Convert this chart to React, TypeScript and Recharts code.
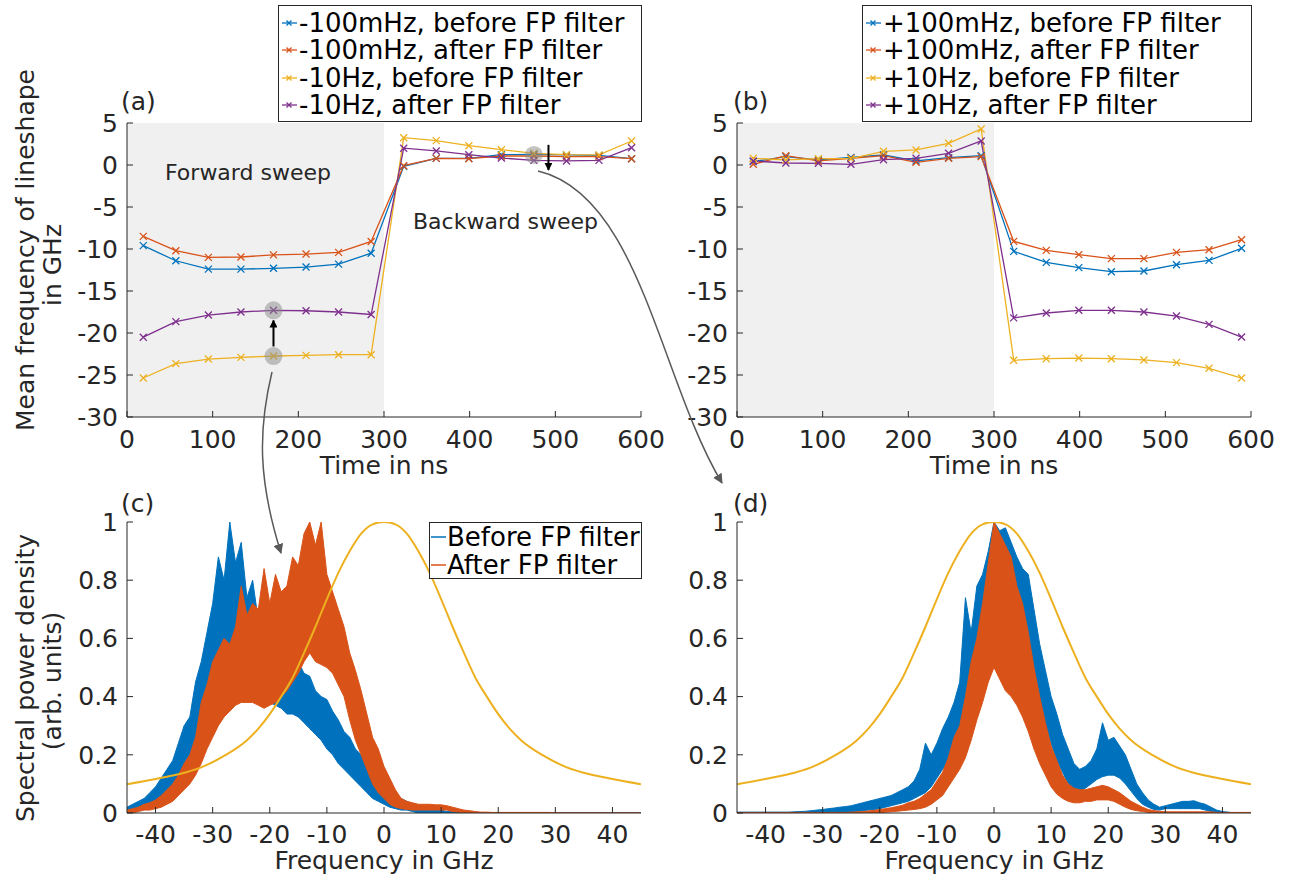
import React from 'react';
import {
  Area,
  ComposedChart,
  Line,
  LineChart,
  ReferenceArea,
  ReferenceDot,
  ReferenceLine,
  XAxis,
  YAxis,
} from 'recharts';

const FONT = 'DejaVu Sans';
const AX = '#262626';
const BLUE = '#0072BD';
const ORANGE = '#D95319';
const YELLOW = '#EDB120';
const PURPLE = '#7E2F8E';

// ---- sweep panels (a) and (b) ----
const times = [19, 57, 95, 133, 171, 209, 247, 285, 323, 361, 399, 437, 475, 513, 551, 589];
const timeTicks = [0, 100, 200, 300, 400, 500, 600];
const shiftTicks = [-30, -25, -20, -15, -10, -5, 0, 5];

const minusBlue = [-9.6, -11.4, -12.4, -12.4, -12.3, -12.15, -11.8, -10.5, -0.16, 0.79, 0.79, 1.23, 1.27, 1.2, 1.15, 0.75];
const minusOrange = [-8.5, -10.2, -11.0, -10.95, -10.7, -10.6, -10.4, -9.1, -0.08, 0.79, 0.75, 1.07, 1.07, 1.0, 1.0, 0.75];
const minusYellow = [-25.36, -23.65, -23.1, -22.9, -22.74, -22.66, -22.58, -22.58, 3.25, 2.9, 2.3, 1.82, 1.39, 1.23, 1.2, 2.86];
const minusPurple = [-20.5, -18.65, -17.86, -17.5, -17.3, -17.35, -17.5, -17.8, 2.0, 1.67, 1.23, 0.83, 0.55, 0.48, 0.55, 2.06];

const plusBlue = [0.4, 1.0, 0.6, 0.91, 1.19, 0.48, 0.87, 1.11, -10.28, -11.59, -12.22, -12.7, -12.62, -11.87, -11.35, -9.92];
const plusOrange = [0.08, 1.11, 0.48, 0.8, 1.11, 0.32, 0.8, 1.0, -9.09, -10.16, -10.67, -11.15, -11.15, -10.4, -10.08, -8.89];
const plusYellow = [0.8, 0.6, 0.75, 0.75, 1.63, 1.79, 2.58, 4.29, -23.25, -23.06, -22.98, -23.06, -23.21, -23.53, -24.2, -25.36];
const plusPurple = [0.48, 0.24, 0.2, 0.08, 0.63, 0.8, 1.39, 2.86, -18.2, -17.62, -17.3, -17.3, -17.5, -17.98, -18.97, -20.48];

const minusLabels = ['-100mHz, before FP filter', '-100mHz, after FP filter', '-10Hz, before FP filter', '-10Hz, after FP filter'];
const plusLabels = ['+100mHz, before FP filter', '+100mHz, after FP filter', '+10Hz, before FP filter', '+10Hz, after FP filter'];

// ---- spectra panels (c) and (d), 1 GHz grid ----
const freqs = [
  -45, -44, -43, -42, -41, -40, -39, -38, -37, -36,
  -35, -34, -33, -32, -31, -30, -29, -28, -27, -26,
  -25, -24, -23, -22, -21, -20, -19, -18, -17, -16,
  -15, -14, -13, -12, -11, -10, -9, -8, -7, -6,
  -5, -4, -3, -2, -1, 0, 1, 2, 3, 4,
  5, 6, 7, 8, 9, 10, 11, 12, 13, 14,
  15, 16, 17, 18, 19, 20, 21, 22, 23, 24,
  25, 26, 27, 28, 29, 30, 31, 32, 33, 34,
  35, 36, 37, 38, 39, 40, 41, 42, 43, 44, 45,
];
const freqTicks = [-40, -30, -20, -10, 0, 10, 20, 30, 40];
const psdTicks = [0, 0.2, 0.4, 0.6, 0.8, 1];

const cBlueHi = [
  0.02, 0.03, 0.04, 0.05, 0.07, 0.09, 0.12, 0.15, 0.18, 0.24,
  0.3, 0.33, 0.45, 0.52, 0.62, 0.72, 0.88, 0.8, 1.0, 0.86,
  0.93, 0.74, 0.8, 0.66, 0.62, 0.58, 0.55, 0.52, 0.5, 0.55,
  0.52, 0.48, 0.47, 0.42, 0.4, 0.39, 0.35, 0.32, 0.28, 0.26,
  0.22, 0.2, 0.16, 0.14, 0.11, 0.08, 0.07, 0.05, 0.05, 0.04,
  0.03, 0.02, 0.02, 0.015, 0.01, 0.01, 0.005, 0.005, 0.004, 0.003,
  0.002, 0.002, 0.001, 0, 0, 0, 0, 0, 0, 0,
  0, 0, 0, 0, 0, 0, 0, 0, 0, 0,
  0, 0, 0, 0, 0, 0, 0, 0, 0, 0, 0,
];
const cBlueLo = [
  0, 0.005, 0.01, 0.015, 0.02, 0.03, 0.05, 0.07, 0.09, 0.11,
  0.14, 0.18, 0.23, 0.28, 0.35, 0.42, 0.47, 0.52, 0.55, 0.52,
  0.5, 0.48, 0.45, 0.42, 0.4, 0.38, 0.37, 0.36, 0.34, 0.34,
  0.33, 0.31, 0.29, 0.27, 0.25, 0.22, 0.2, 0.17, 0.15, 0.13,
  0.11, 0.09, 0.07, 0.05, 0.04, 0.03, 0.02, 0.015, 0.01, 0.01,
  0.005, 0, 0, 0, 0, 0, 0, 0, 0, 0,
  0, 0, 0, 0, 0, 0, 0, 0, 0, 0,
  0, 0, 0, 0, 0, 0, 0, 0, 0, 0,
  0, 0, 0, 0, 0, 0, 0, 0, 0, 0, 0,
];
const cOrangeHi = [
  0.01, 0.015, 0.02, 0.03, 0.035, 0.045, 0.06, 0.08, 0.1, 0.13,
  0.17, 0.2, 0.26, 0.38, 0.44, 0.52, 0.56, 0.6, 0.58, 0.64,
  0.78, 0.68, 0.72, 0.7, 0.84, 0.72, 0.82, 0.76, 0.78, 0.88,
  0.85, 0.96, 1.0, 0.92, 1.0, 0.82, 0.76, 0.7, 0.64, 0.55,
  0.49, 0.42, 0.34, 0.26, 0.22, 0.16, 0.12, 0.08, 0.05, 0.04,
  0.035, 0.03, 0.03, 0.03, 0.028, 0.028, 0.025, 0.02, 0.015, 0.01,
  0.008, 0.005, 0.003, 0.003, 0.002, 0.002, 0.002, 0.002, 0.002, 0.002,
  0.002, 0.002, 0.002, 0.002, 0.002, 0.001, 0, 0, 0, 0,
  0, 0, 0, 0, 0, 0, 0, 0, 0, 0, 0,
];
const cOrangeLo = [
  0, 0, 0.005, 0.01, 0.01, 0.015, 0.02, 0.03, 0.04, 0.06,
  0.08, 0.1, 0.13, 0.17, 0.22, 0.26, 0.3, 0.33, 0.35, 0.37,
  0.38, 0.38, 0.38, 0.37, 0.36, 0.37, 0.38, 0.4, 0.42, 0.45,
  0.48, 0.52, 0.55, 0.52, 0.51, 0.5, 0.48, 0.44, 0.4, 0.32,
  0.25, 0.2, 0.15, 0.1, 0.07, 0.05, 0.03, 0.02, 0.015, 0.012,
  0.01, 0.01, 0.01, 0.01, 0.01, 0.01, 0.01, 0.005, 0.003, 0.002,
  0, 0, 0, 0, 0, 0, 0, 0, 0, 0,
  0, 0, 0, 0, 0, 0, 0, 0, 0, 0,
  0, 0, 0, 0, 0, 0, 0, 0, 0, 0, 0,
];

const dBlueHi = [
  0.003, 0.003, 0.003, 0.003, 0.003, 0.003, 0.003, 0.003, 0.003, 0.003,
  0.004, 0.005, 0.006, 0.008, 0.01, 0.012, 0.015, 0.017, 0.02, 0.022,
  0.025, 0.03, 0.035, 0.04, 0.045, 0.05, 0.055, 0.06, 0.07, 0.08,
  0.09, 0.11, 0.15, 0.24, 0.2, 0.24, 0.29, 0.33, 0.38, 0.45,
  0.74, 0.62, 0.78, 0.82, 0.9, 1.0, 0.97, 0.98, 0.93, 0.88,
  0.84, 0.82, 0.7, 0.58, 0.49, 0.4, 0.34, 0.27, 0.22, 0.17,
  0.15, 0.16, 0.18, 0.22, 0.31, 0.25, 0.26, 0.23, 0.2, 0.15,
  0.1, 0.07, 0.045, 0.03, 0.02, 0.025, 0.03, 0.035, 0.04, 0.04,
  0.042, 0.035, 0.03, 0.02, 0.01, 0.005, 0.003, 0, 0, 0, 0,
];
const dBlueLo = [
  0, 0, 0, 0, 0, 0, 0, 0, 0, 0,
  0, 0, 0, 0, 0, 0, 0, 0, 0, 0.002,
  0.003, 0.005, 0.008, 0.01, 0.012, 0.015, 0.02, 0.025, 0.03, 0.035,
  0.04, 0.05, 0.06, 0.07, 0.09, 0.12, 0.15, 0.18, 0.21, 0.27,
  0.33, 0.42, 0.5, 0.55, 0.57, 0.56, 0.52, 0.5, 0.52, 0.55,
  0.55, 0.5, 0.44, 0.36, 0.3, 0.24, 0.18, 0.14, 0.1, 0.08,
  0.075, 0.085, 0.1, 0.115, 0.125, 0.13, 0.13, 0.12, 0.1, 0.075,
  0.05, 0.03, 0.02, 0.012, 0.01, 0.015, 0.015, 0.015, 0.015, 0.015,
  0.015, 0.015, 0.01, 0.005, 0, 0, 0, 0, 0, 0, 0,
];
const dOrangeHi = [
  0.002, 0.002, 0.002, 0.002, 0.002, 0.002, 0.002, 0.002, 0.002, 0.002,
  0.002, 0.002, 0.002, 0.002, 0.002, 0.002, 0.002, 0.002, 0.002, 0.002,
  0.003, 0.004, 0.005, 0.007, 0.009, 0.012, 0.015, 0.018, 0.022, 0.027,
  0.035, 0.04, 0.05, 0.065, 0.08, 0.11, 0.14, 0.19, 0.26, 0.3,
  0.4, 0.52, 0.6, 0.72, 0.86, 1.0, 0.96, 0.92, 0.88, 0.78,
  0.72, 0.62, 0.5, 0.4, 0.31, 0.23, 0.18, 0.13, 0.1, 0.085,
  0.08, 0.08, 0.085, 0.09, 0.095, 0.09, 0.08, 0.07, 0.055, 0.04,
  0.03, 0.02, 0.012, 0.008, 0.006, 0.004, 0.004, 0.004, 0.004, 0.004,
  0.004, 0.004, 0.004, 0.004, 0.002, 0.002, 0.002, 0.002, 0.002, 0.002, 0.002,
];
const dOrangeLo = [
  0, 0, 0, 0, 0, 0, 0, 0, 0, 0,
  0, 0, 0, 0, 0, 0, 0, 0, 0, 0,
  0, 0, 0, 0, 0, 0, 0.003, 0.004, 0.006, 0.008,
  0.01, 0.012, 0.015, 0.02, 0.03, 0.045, 0.06, 0.09, 0.12, 0.15,
  0.19, 0.25, 0.32, 0.38, 0.45, 0.5, 0.46, 0.42, 0.4, 0.37,
  0.33, 0.28, 0.22, 0.17, 0.13, 0.09, 0.065, 0.05, 0.04, 0.035,
  0.035, 0.04, 0.04, 0.045, 0.045, 0.045, 0.04, 0.03, 0.02, 0.012,
  0.008, 0.005, 0.002, 0, 0, 0, 0, 0, 0, 0,
  0, 0, 0, 0, 0, 0, 0, 0, 0, 0, 0,
];

// FP filter transmission
const filterFreqs = [-45, -40, -36, -32, -28, -24, -22, -20, -18, -16, -14, -12, -10, -8, -6, -4, -2, 0, 2, 4, 6, 8, 10, 12, 14, 16, 18, 20, 22, 24, 28, 32, 36, 40, 45];
const filterVals = [0.099, 0.117, 0.133, 0.157, 0.196, 0.25, 0.29, 0.34, 0.4, 0.465, 0.55, 0.64, 0.735, 0.825, 0.9, 0.96, 0.992, 1, 0.992, 0.96, 0.9, 0.825, 0.735, 0.64, 0.55, 0.465, 0.4, 0.34, 0.29, 0.25, 0.196, 0.157, 0.133, 0.117, 0.099];

const tickStyle = { fontFamily: FONT, fontSize: 25, fill: AX };

const Cross = (props: any) => {
  const { cx, cy, stroke, index } = props;
  if (cx == null || cy == null) return <g key={index} />;
  const s = 3.5;
  return (
    <path
      key={index}
      d={`M${cx - s},${cy - s}L${cx + s},${cy + s}M${cx - s},${cy + s}L${cx + s},${cy - s}`}
      stroke={stroke}
      strokeWidth={1.3}
      fill="none"
    />
  );
};

const arrowShape = (p: any) => (
  <line x1={p.x1} y1={p.y1} x2={p.x2} y2={p.y2} stroke="#000" strokeWidth={2} markerEnd="url(#arrowBlack)" />
);

function SweepPanel({ left, blue, orange, yellow, purple, minus }: any) {
  const rows = times.map((t, i) => ({ t, b: blue[i], o: orange[i], y: yellow[i], p: purple[i] }));
  const series = [
    { key: 'b', color: BLUE },
    { key: 'o', color: ORANGE },
    { key: 'y', color: YELLOW },
    { key: 'p', color: PURPLE },
  ];
  return (
    <div style={{ position: 'absolute', left, top: 0 }}>
      <LineChart width={690} height={480} data={rows} margin={{ top: 123, right: 49, left: 67, bottom: 33 }}>
        <ReferenceArea x1={0} x2={300} y1={-30} y2={5} fill="#f0f0f0" fillOpacity={1} stroke="none" />
        <XAxis dataKey="t" type="number" domain={[0, 600]} ticks={timeTicks} interval={0} allowDataOverflow
          height={30} tickSize={-6} tickMargin={19} stroke={AX} tick={tickStyle} />
        <XAxis xAxisId="top" orientation="top" type="number" domain={[0, 600]} ticks={timeTicks} interval={0}
          allowDataOverflow height={0} tickSize={-6} stroke={AX} tick={false} />
        <YAxis type="number" domain={[-30, 5]} ticks={shiftTicks} interval={0} allowDataOverflow
          width={60} tickSize={-6} tickMargin={15} stroke={AX} tick={tickStyle} />
        <YAxis yAxisId="right" orientation="right" type="number" domain={[-30, 5]} ticks={shiftTicks} interval={0}
          allowDataOverflow width={0} tickSize={-6} stroke={AX} tick={false} />
        {series.map((s) => (
          <Line key={s.key} type="linear" dataKey={s.key} stroke={s.color} strokeWidth={1.3}
            dot={(p: any) => <Cross key={p.index} {...p} />} activeDot={false} isAnimationActive={false} />
        ))}
        {minus && <ReferenceDot x={171} y={-17.3} r={9} fill="#8a8a8a" fillOpacity={0.5} stroke="none" />}
        {minus && <ReferenceDot x={171} y={-22.74} r={9} fill="#8a8a8a" fillOpacity={0.5} stroke="none" />}
        {minus && <ReferenceDot x={475} y={1.2} r={9} fill="#8a8a8a" fillOpacity={0.5} stroke="none" />}
        {minus && <ReferenceLine segment={[{ x: 171, y: -21.6 }, { x: 171, y: -18.5 }]} shape={arrowShape} />}
        {minus && <ReferenceLine segment={[{ x: 492, y: 2.4 }, { x: 492, y: -0.6 }]} shape={arrowShape} />}
      </LineChart>
    </div>
  );
}

function SpectrumPanel({ left, bHi, bLo, oHi, oLo }: any) {
  const rows = freqs.map((f, i) => ({ f, bLo: bLo[i], bHi: bHi[i], oLo: oLo[i], oHi: oHi[i] }));
  const filterRows = filterFreqs.map((f, i) => ({ f, v: filterVals[i] }));
  return (
    <div style={{ position: 'absolute', left, top: 400 }}>
      <ComposedChart width={690} height={479} data={rows} margin={{ top: 122, right: 49, left: 67, bottom: 36 }}>
        <XAxis dataKey="f" type="number" domain={[-45, 45]} ticks={freqTicks} interval={0} allowDataOverflow
          height={30} tickSize={-6} tickMargin={18} stroke={AX} tick={tickStyle} />
        <XAxis xAxisId="top" orientation="top" type="number" domain={[-45, 45]} ticks={freqTicks} interval={0}
          allowDataOverflow height={0} tickSize={-6} stroke={AX} tick={false} />
        <YAxis type="number" domain={[0, 1]} ticks={psdTicks} interval={0} allowDataOverflow
          width={60} tickSize={-6} tickMargin={15} stroke={AX} tick={tickStyle} />
        <YAxis yAxisId="right" orientation="right" type="number" domain={[0, 1]} ticks={psdTicks} interval={0}
          allowDataOverflow width={0} tickSize={-6} stroke={AX} tick={false} />
        <Area type="linear" dataKey={(d: any) => [d.bLo, d.bHi]} fill={BLUE} fillOpacity={1} stroke={BLUE}
          strokeWidth={1} dot={false} activeDot={false} isAnimationActive={false} />
        <Area type="linear" dataKey={(d: any) => [d.oLo, d.oHi]} fill={ORANGE} fillOpacity={1} stroke={ORANGE}
          strokeWidth={1} dot={false} activeDot={false} isAnimationActive={false} />
        <Line data={filterRows} type="monotone" dataKey="v" stroke={YELLOW} strokeWidth={2} dot={false}
          activeDot={false} isAnimationActive={false} />
      </ComposedChart>
    </div>
  );
}

function SweepLegend({ left, width, labels }: any) {
  const colors = [BLUE, ORANGE, YELLOW, PURPLE];
  return (
    <div style={{
      position: 'absolute', left, top: 5, width, height: 117, boxSizing: 'border-box',
      border: `1px solid ${AX}`, background: '#fff', fontFamily: FONT, fontSize: 26, color: '#000', paddingTop: 3,
    }}>
      {labels.map((lab: string, i: number) => (
        <div key={lab} style={{ display: 'flex', alignItems: 'center', height: 27.5, whiteSpace: 'nowrap' }}>
          <svg width={20} height={12} style={{ flex: 'none' }}>
            <line x1={3} y1={6} x2={18} y2={6} stroke={colors[i]} strokeWidth={1.3} />
            <path d="M7.5,3.5L12.5,8.5M7.5,8.5L12.5,3.5" stroke={colors[i]} strokeWidth={1.3} />
          </svg>
          <span>{lab}</span>
        </div>
      ))}
    </div>
  );
}

function SpectrumLegend() {
  const items = [
    { label: 'Before FP filter', color: BLUE },
    { label: 'After FP filter', color: ORANGE },
  ];
  return (
    <div style={{
      position: 'absolute', left: 429, top: 522, width: 213, height: 57, boxSizing: 'border-box',
      border: `1px solid ${AX}`, background: '#fff', fontFamily: FONT, fontSize: 26, color: '#000', paddingTop: 0,
    }}>
      {items.map((it) => (
        <div key={it.label} style={{ display: 'flex', alignItems: 'center', height: 28, whiteSpace: 'nowrap' }}>
          <svg width={17} height={10} style={{ flex: 'none' }}>
            <line x1={1} y1={5} x2={16} y2={5} stroke={it.color} strokeWidth={1.5} />
          </svg>
          <span>{it.label}</span>
        </div>
      ))}
    </div>
  );
}

const txt = { fontFamily: FONT, fill: AX };

export default function App() {
  return (
    <div style={{ position: 'absolute', left: 0, top: 0, width: 1298, height: 879, overflow: 'hidden', background: '#fff' }}>
      <SweepPanel left={0} blue={minusBlue} orange={minusOrange} yellow={minusYellow} purple={minusPurple} minus />
      <SweepPanel left={610} blue={plusBlue} orange={plusOrange} yellow={plusYellow} purple={plusPurple} />
      <SpectrumPanel left={0} bHi={cBlueHi} bLo={cBlueLo} oHi={cOrangeHi} oLo={cOrangeLo} />
      <SpectrumPanel left={610} bHi={dBlueHi} bLo={dBlueLo} oHi={dOrangeHi} oLo={dOrangeLo} />
      <SweepLegend left={278} width={364} labels={minusLabels} />
      <SweepLegend left={862} width={390} labels={plusLabels} />
      <SpectrumLegend />
      <svg width={1298} height={879} style={{ position: 'absolute', left: 0, top: 0, pointerEvents: 'none' }}>
        <defs>
          <marker id="arrowBlack" viewBox="0 0 10 10" refX="9" refY="5" markerWidth="8" markerHeight="8"
            markerUnits="userSpaceOnUse" orient="auto">
            <path d="M0,0L10,5L0,10z" fill="#000" />
          </marker>
          <marker id="arrowGrey" viewBox="0 0 10 10" refX="9" refY="5" markerWidth="10" markerHeight="10"
            markerUnits="userSpaceOnUse" orient="auto">
            <path d="M0,0L10,5L0,10z" fill="#595959" />
          </marker>
        </defs>
        <path d="M272,372 C258,430 258,480 281,553" fill="none" stroke="#595959" strokeWidth={1.5} markerEnd="url(#arrowGrey)" />
        <path d="M538,171 C640,195 660,380 722,483" fill="none" stroke="#595959" strokeWidth={1.5} markerEnd="url(#arrowGrey)" />

        <text x={165} y={180} fontSize={22} {...txt}>Forward sweep</text>
        <text x={413} y={229} fontSize={22} {...txt}>Backward sweep</text>

        <text x={121} y={110} fontSize={25} {...txt}>(a)</text>
        <text x={733} y={110} fontSize={25} {...txt}>(b)</text>
        <text x={121} y={512} fontSize={25} {...txt}>(c)</text>
        <text x={733} y={512} fontSize={25} {...txt}>(d)</text>

        <text x={384} y={474} fontSize={25} textAnchor="middle" {...txt}>Time in ns</text>
        <text x={994} y={474} fontSize={25} textAnchor="middle" {...txt}>Time in ns</text>
        <text x={384} y={869} fontSize={25} textAnchor="middle" {...txt}>Frequency in GHz</text>
        <text x={994} y={869} fontSize={25} textAnchor="middle" {...txt}>Frequency in GHz</text>

        <text transform="translate(34,250) rotate(-90)" fontSize={25} textAnchor="middle" {...txt}>Mean frequency of lineshape</text>
        <text transform="translate(61,265) rotate(-90)" fontSize={25} textAnchor="middle" {...txt}>in GHz</text>
        <text transform="translate(34,678) rotate(-90)" fontSize={25} textAnchor="middle" {...txt}>Spectral power density</text>
        <text transform="translate(61,681) rotate(-90)" fontSize={25} textAnchor="middle" {...txt}>(arb. units)</text>
      </svg>
    </div>
  );
}
